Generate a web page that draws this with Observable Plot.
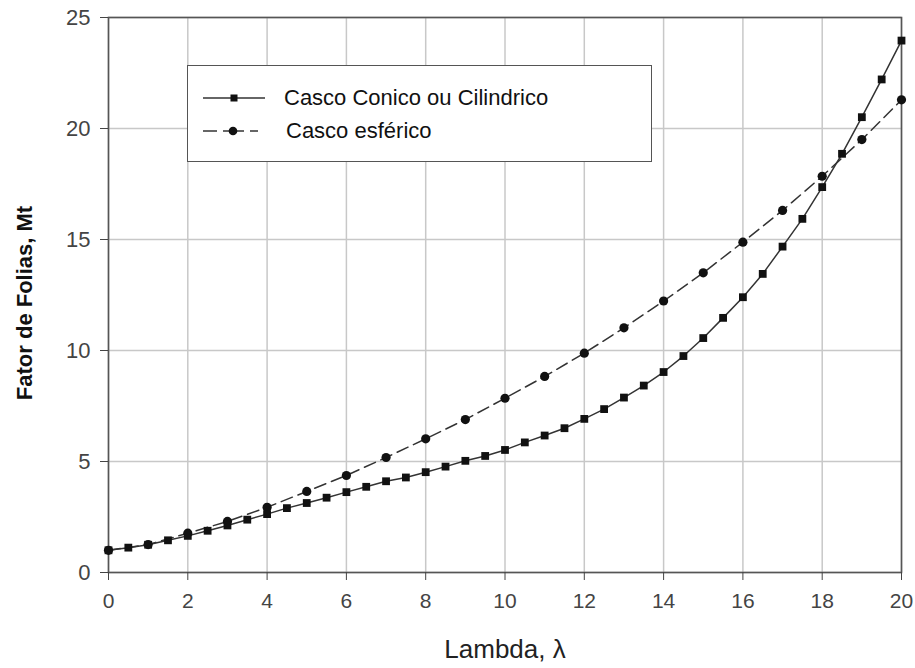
<!DOCTYPE html>
<html>
<head>
<meta charset="utf-8">
<script src="https://cdn.jsdelivr.net/npm/d3@7"></script>
<script src="https://cdn.jsdelivr.net/npm/@observablehq/plot@0.6"></script>
<style>
  html, body { margin: 0; padding: 0; background: #fff; }
  #chart { position: relative; width: 915px; height: 668px; font-family: "Liberation Sans", Arial, sans-serif; }
  #legend {
    position: absolute; left: 187px; top: 65px; width: 463px; height: 95px;
    border: 1.5px solid #555; background: #fff; box-sizing: content-box;
  }
  .item { position: absolute; left: 14px; display: flex; align-items: center; font-size: 22px; color: #111; }
  .item svg { margin-right: 18px; }
</style>
</head>
<body>
<div id="chart"></div>
<script>
// Lambda values for the conical / cylindrical shell (every 0.5)
const lambdaCone = [0, 0.5, 1, 1.5, 2, 2.5, 3, 3.5, 4, 4.5, 5, 5.5, 6, 6.5, 7, 7.5, 8, 8.5, 9, 9.5,
  10, 10.5, 11, 11.5, 12, 12.5, 13, 13.5, 14, 14.5, 15, 15.5, 16, 16.5, 17, 17.5, 18, 18.5, 19, 19.5, 20];
const mtCone = [1.00, 1.12, 1.25, 1.45, 1.65, 1.88, 2.12, 2.38, 2.63, 2.90, 3.13, 3.37, 3.62, 3.86, 4.11,
  4.28, 4.52, 4.77, 5.03, 5.25, 5.52, 5.86, 6.17, 6.50, 6.92, 7.36, 7.88, 8.42, 9.03, 9.75, 10.56,
  11.47, 12.40, 13.45, 14.68, 15.93, 17.36, 18.86, 20.51, 22.21, 23.96];

// Lambda values for the spherical shell (every 1)
const lambdaSphere = [0, 1, 2, 3, 4, 5, 6, 7, 8, 9, 10, 11, 12, 13, 14, 15, 16, 17, 18, 19, 20];
const mtSphere = [1.00, 1.26, 1.77, 2.30, 2.94, 3.65, 4.37, 5.18, 6.02, 6.89, 7.85, 8.83, 9.88,
  11.02, 12.23, 13.50, 14.88, 16.31, 17.85, 19.50, 21.29];

const xTicks = [0, 2, 4, 6, 8, 10, 12, 14, 16, 18, 20];
const yTicks = [0, 5, 10, 15, 20, 25];
const seriesNames = ["Casco Conico ou Cilindrico", "Casco esférico"];
const xTitle = "Lambda, λ";
const yTitle = "Fator de Folias, Mt";

const cone = lambdaCone.map((x, i) => ({x, y: mtCone[i]}));
const sphere = lambdaSphere.map((x, i) => ({x, y: mtSphere[i]}));

const plot = Plot.plot({
  width: 915,
  height: 668,
  marginLeft: 108,
  marginRight: 14,
  marginTop: 17,
  marginBottom: 96,
  style: {fontFamily: "Liberation Sans, Arial, sans-serif", background: "#fff"},
  x: {domain: [0, 20]},
  y: {domain: [0, 25]},
  marks: [
    Plot.gridX(xTicks, {stroke: "#c8c8c8", strokeOpacity: 1, strokeWidth: 1.5}),
    Plot.gridY(yTicks, {stroke: "#c8c8c8", strokeOpacity: 1, strokeWidth: 1.5}),
    Plot.frame({stroke: "#555", strokeWidth: 1.6}),
    Plot.axisX(xTicks, {tickSize: 8, tickPadding: 13, stroke: "#444", fill: "#444", fontSize: 21, label: null, tickFormat: d => String(d)}),
    Plot.axisY(yTicks, {tickSize: 8, tickPadding: 10, stroke: "#444", fill: "#444", fontSize: 22, label: null, tickFormat: d => String(d)}),
    Plot.text([xTitle], {frameAnchor: "bottom", dy: 85, fontSize: 26, fill: "#222", lineAnchor: "bottom"}),
    Plot.text([yTitle], {frameAnchor: "left", dx: -84, dy: 8, rotate: -90, textAnchor: "middle", fontSize: 22, fontWeight: "bold", fill: "#111", lineAnchor: "middle"}),
    Plot.line(sphere, {x: "x", y: "y", stroke: "#333", strokeWidth: 1.5, strokeDasharray: "12,6"}),
    Plot.line(cone, {x: "x", y: "y", stroke: "#333", strokeWidth: 1.5}),
    Plot.dot(sphere, {x: "x", y: "y", r: 4.6, symbol: "circle", fill: "#111", stroke: "none"}),
    Plot.dot(cone, {x: "x", y: "y", r: 4.4, symbol: "square", fill: "#111", stroke: "none"})
  ]
});

const chart = document.getElementById("chart");
chart.appendChild(plot);

// Legend box over the upper-left of the frame
const legend = document.createElement("div");
legend.id = "legend";
legend.innerHTML = `
  <div class="item" style="top:19px">
    <svg width="64" height="12"><line x1="1" x2="63" y1="6" y2="6" stroke="#333" stroke-width="1.5"/><rect x="28.5" y="2.5" width="7" height="7" fill="#111"/></svg>
    <span>${seriesNames[0]}</span>
  </div>
  <div class="item" style="top:52px">
    <svg width="64" height="12"><line x1="1" x2="15" y1="6" y2="6" stroke="#333" stroke-width="1.5"/><line x1="21" x2="42" y1="6" y2="6" stroke="#333" stroke-width="1.5"/><line x1="48" x2="56" y1="6" y2="6" stroke="#333" stroke-width="1.5"/><circle cx="31" cy="6" r="4.3" fill="#111"/></svg>
    <span style="margin-left:2px">${seriesNames[1]}</span>
  </div>`;
chart.appendChild(legend);
</script>
</body>
</html>
